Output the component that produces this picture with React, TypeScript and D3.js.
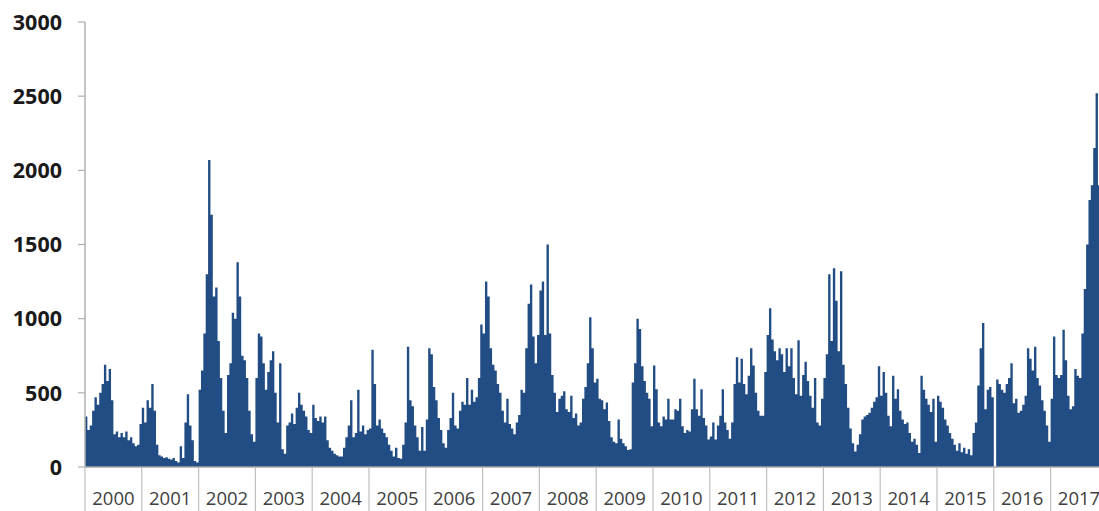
import * as d3 from 'd3'

// semi-monthly values, one array per year
const y2000 = [340, 250, 280, 380, 470, 420, 500, 560, 690, 580, 660, 450, 220, 240, 200, 230, 200, 240, 180, 200, 160, 140, 150, 290]
const y2001 = [400, 300, 450, 400, 560, 380, 150, 80, 70, 60, 65, 55, 50, 60, 40, 30, 140, 60, 300, 490, 280, 180, 40, 30]
const y2002 = [520, 650, 900, 1300, 2070, 1700, 1150, 1210, 850, 600, 380, 230, 620, 700, 1040, 1000, 1380, 1150, 750, 720, 600, 380, 220, 170]
const y2003 = [600, 900, 880, 700, 520, 640, 720, 780, 500, 300, 700, 120, 90, 280, 300, 360, 290, 400, 500, 420, 380, 340, 250, 230]
const y2004 = [420, 330, 310, 340, 300, 340, 180, 130, 110, 90, 80, 70, 70, 130, 200, 280, 450, 200, 230, 520, 240, 280, 220, 250]
const y2005 = [260, 790, 560, 280, 320, 260, 230, 200, 150, 110, 70, 130, 60, 55, 150, 300, 810, 450, 410, 280, 200, 110, 270, 110]
const y2006 = [320, 800, 760, 540, 450, 330, 250, 160, 130, 250, 330, 500, 280, 260, 380, 440, 420, 600, 420, 520, 440, 470, 600, 960]
const y2007 = [900, 1250, 1150, 800, 690, 650, 560, 500, 380, 300, 460, 290, 260, 220, 300, 350, 520, 500, 800, 1100, 1230, 880, 700, 890]
const y2008 = [1190, 1250, 890, 1500, 900, 620, 500, 370, 460, 480, 510, 390, 370, 480, 330, 360, 280, 300, 460, 540, 700, 1010, 800, 570]
const y2009 = [595, 460, 450, 390, 435, 310, 200, 170, 160, 320, 190, 160, 140, 115, 120, 570, 700, 1000, 930, 680, 580, 500, 460, 275]
const y2010 = [685, 525, 300, 275, 340, 320, 460, 320, 320, 390, 380, 460, 275, 230, 250, 240, 390, 595, 390, 345, 525, 330, 280, 185]
const y2011 = [205, 300, 185, 280, 345, 525, 300, 250, 190, 300, 560, 740, 570, 730, 560, 490, 615, 800, 685, 500, 380, 345, 345, 640]
const y2012 = [890, 1070, 860, 780, 720, 800, 760, 640, 800, 680, 800, 600, 490, 855, 480, 620, 710, 580, 480, 400, 600, 300, 280, 460]
const y2013 = [600, 760, 1300, 850, 1340, 1120, 780, 1320, 690, 560, 400, 260, 160, 105, 150, 220, 320, 340, 350, 365, 400, 440, 470, 680]
const y2014 = [480, 640, 500, 345, 275, 615, 460, 525, 380, 320, 290, 300, 230, 170, 190, 150, 95, 615, 520, 460, 420, 370, 460, 170]
const y2015 = [480, 440, 400, 320, 280, 230, 190, 150, 110, 160, 100, 130, 90, 120, 80, 230, 300, 550, 800, 970, 390, 520, 540, 470]
const y2016 = [0, 590, 560, 520, 500, 560, 600, 700, 430, 460, 365, 380, 420, 480, 800, 730, 650, 810, 600, 550, 450, 380, 280, 170]
const y2017 = [460, 880, 620, 600, 620, 925, 720, 480, 390, 410, 660, 615, 600, 900, 1200, 1500, 1800, 1900, 2150, 2520, 1900]

const years = ['2000', '2001', '2002', '2003', '2004', '2005', '2006', '2007', '2008', '2009', '2010', '2011', '2012', '2013', '2014', '2015', '2016', '2017']
const yTicks = [0, 500, 1000, 1500, 2000, 2500, 3000]

const W = 1099
const H = 511
const PER_YEAR = 24

export default function App() {
  const values = [y2000, y2001, y2002, y2003, y2004, y2005, y2006, y2007, y2008, y2009,
    y2010, y2011, y2012, y2013, y2014, y2015, y2016, y2017].flat()

  const left = 85
  const yearW = 56.8
  const right = left + years.length * yearW

  const xYear = d3.scaleLinear().domain([0, years.length]).range([left, right])
  const x = d3.scaleLinear().domain([0, years.length * PER_YEAR]).range([left, right])
  const y = d3.scaleLinear().domain([0, 3000]).range([467, 22])

  // step area, last point repeated so the final step gets its width
  const pts = values.map((v, i) => ({ i, v }))
  pts.push({ i: values.length, v: values[values.length - 1] })

  const area = d3
    .area<{ i: number; v: number }>()
    .x(d => x(d.i))
    .y0(y(0))
    .y1(d => y(d.v))
    .curve(d3.curveStepAfter)

  return (
    <svg width={W} height={H} style={{ position: 'absolute', left: 0, top: 0, background: '#fff' }}>
      <path d={area(pts) ?? ''} fill="#224d84" />

      {/* x axis baseline + year separators */}
      <line x1={left} x2={W} y1={y(0)} y2={y(0)} stroke="#a6a6a6" strokeWidth={1.5} />
      {years.map((yr, i) => (
        <g key={yr}>
          <line x1={xYear(i)} x2={xYear(i)} y1={y(0)} y2={H} stroke="#bfbfbf" strokeWidth={1.2} />
          <text
            x={xYear(i + 0.5)}
            y={505}
            textAnchor="middle"
            fontFamily="'Open Sans', sans-serif"
            fontSize={18.5}
            fill="#404040"
          >
            {yr}
          </text>
        </g>
      ))}

      {/* y axis */}
      <line x1={left} x2={left} y1={y(3000)} y2={y(0)} stroke="#b0b0b0" strokeWidth={1.5} />
      {yTicks.map(t => (
        <g key={t}>
          <line x1={78} x2={left} y1={y(t)} y2={y(t)} stroke="#b0b0b0" strokeWidth={1.2} />
          <text
            x={62}
            y={y(t)}
            dy="0.36em"
            textAnchor="end"
            fontFamily="'Open Sans', sans-serif"
            fontWeight="bold"
            fontSize={21.5}
            fill="#1a1a1a"
          >
            {t}
          </text>
        </g>
      ))}
    </svg>
  )
}
